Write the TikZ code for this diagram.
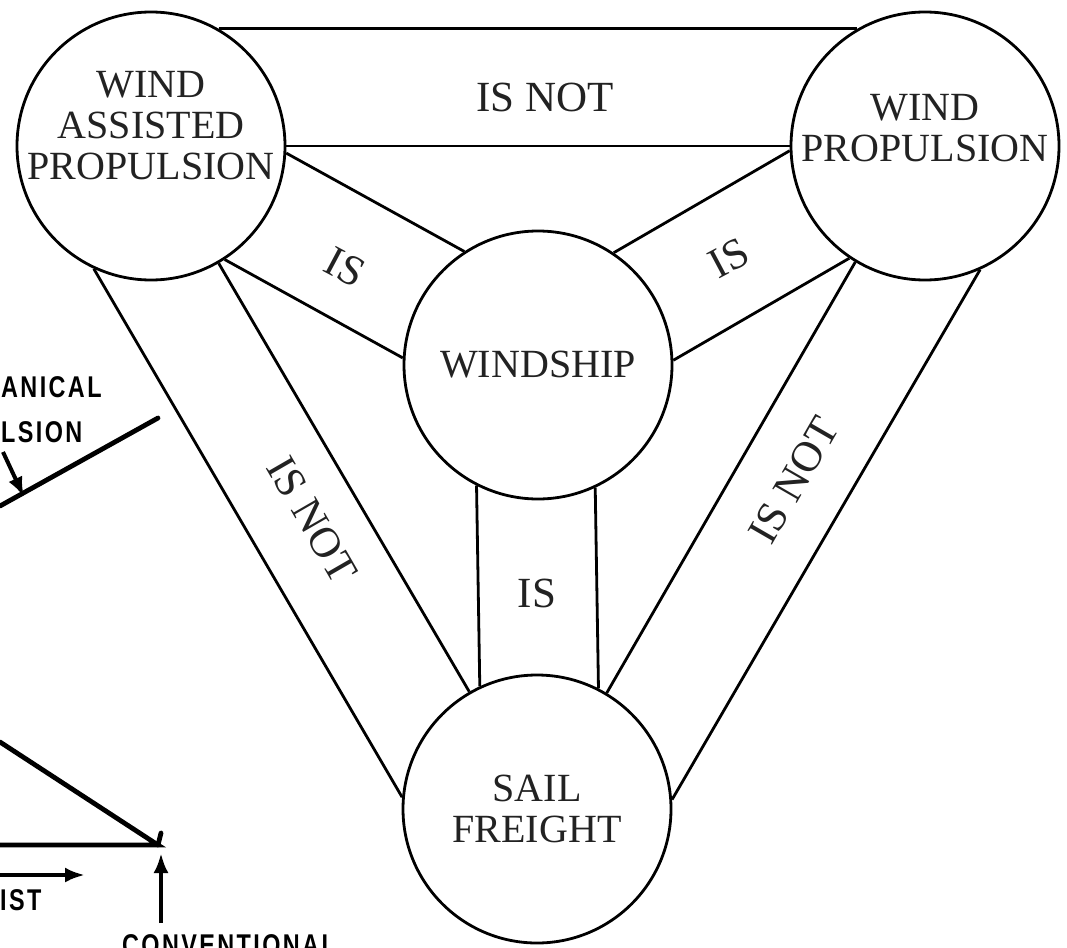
\documentclass[tikz,border=0pt]{standalone}
\usepackage{fontspec}
\setmainfont{Liberation Serif}
\newfontfamily\inkfont[FakeStretch=0.78,LetterSpace=8]{Liberation Sans}
\usetikzlibrary{arrows.meta}
\definecolor{Ink}{HTML}{222222}

\begin{document}
\begin{tikzpicture}[x=1pt,y=-1pt,
  term/.style={draw,circle,line width=2.8pt,minimum size=268pt,inner sep=0pt,
    align=center,text=Ink,font=\fontsize{40}{41}\selectfont},
  termtext/.style={align=center,text=Ink,inner sep=0pt,
    font=\fontsize{40}{41}\selectfont},
  relation/.style={text=Ink,inner sep=0pt,font=\fontsize{43}{43}\selectfont},
  band/.style={line width=2.8pt},
  sketch/.style={line width=4.8pt,line cap=round},
  sketcharr/.style={line width=4pt,-{Latex[length=20pt,width=15pt]}},
  sketchtext/.style={inner sep=0pt,
    font={\inkfont\bfseries\fontsize{30}{30}\selectfont}}
]
\useasboundingbox (0,0) rectangle (1067,947);
\clip (0,0) rectangle (1067,947);

% Left-hand fragment of the neighbouring figure.
\node[sketchtext,anchor=west] (mech) at (1,387) {ANICAL};
\node[sketchtext,anchor=west] (prop) at (1,432) {LSION};
\node[sketchtext,anchor=west] (assist) at (0,900) {IST};
\node[sketchtext,anchor=north west] (conv) at (122,934) {CONVENTIONAL};
\coordinate (mechA) at (0,506);
\coordinate (mechB) at (158,418);
\coordinate (propA) at (3,452);
\coordinate (propB) at (24,497);
\coordinate (slopeA) at (0,742);
\coordinate (corner) at (158,845);
\coordinate (baseA) at (0,845);
\coordinate (tickA) at (161,833);
\coordinate (assistA) at (0,875);
\coordinate (assistB) at (85,875);
\coordinate (convA) at (161,923);
\coordinate (convB) at (161,853);
\draw[sketch] (mechA) -- (mechB);
\draw[sketcharr] (propA) -- (propB);
\draw[sketch] (slopeA) -- (corner) -- (baseA);
\draw[sketch] (corner) -- (tickA);
\draw[sketcharr] (assistA) -- (assistB);
\draw[sketcharr] (convA) -- (convB);

% The four terms.
\node[term] (wap) at (151,146) {};
\node[termtext] (waptext) at (151,126) {WIND\\ASSISTED\\PROPULSION};
\node[term] (wp) at (925,146) {};
\node[termtext] (wptext) at (925,128) {WIND\\PROPULSION};
\node[term] (ws) at (538,365) {WINDSHIP};
\node[term] (sf) at (537,809) {SAIL\\FREIGHT};

% Bands between the terms.
\foreach \a/\p/\b/\q in {wap/60/wp/120, wap/0/wp/180,
    wap/357.5/ws/123.5, wap/303.5/ws/177.5,
    wp/182.5/ws/56.5, wp/236.5/ws/2.5,
    wap/300.2/sf/120.2, wap/245.2/sf/175.2,
    wp/239.7/sf/59.7, wp/294.7/sf/4.7,
    ws/243.9/sf/115.6, ws/295.6/sf/63.9}
  \draw[band] (\a.\p) -- (\b.\q);

% Relation labels.
\node[relation] (top) at (545,97) {IS NOT};
\node[relation,rotate=-28] (leftis) at (345,267) {IS};
\node[relation,rotate=28] (rightis) at (729,258) {IS};
\node[relation,rotate=-60] (leftnot) at (312,520) {IS NOT};
\node[relation,rotate=60] (rightnot) at (794,480) {IS NOT};
\node[relation] (midis) at (537,593) {IS};
\end{tikzpicture}
\end{document}
